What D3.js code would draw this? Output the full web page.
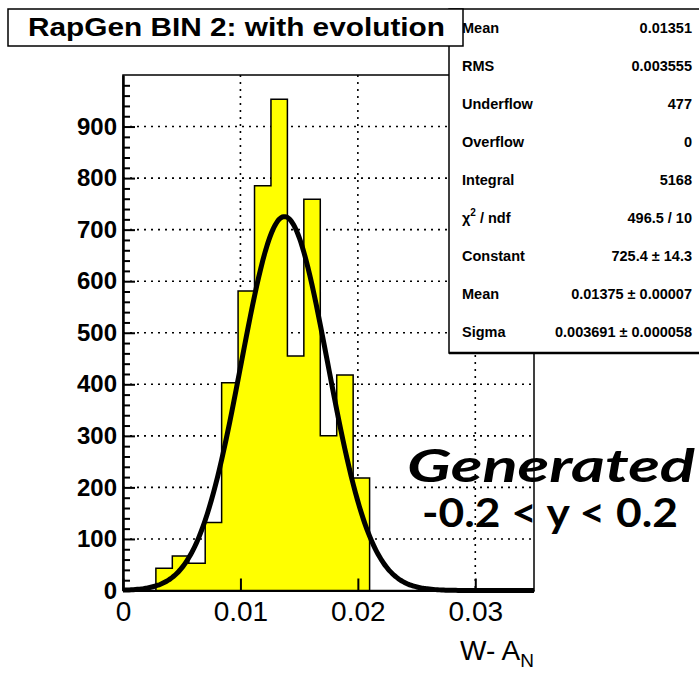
<!DOCTYPE html>
<html>
<head>
<meta charset="utf-8">
<script src="https://cdn.jsdelivr.net/npm/d3@7"></script>
<style>
  body { margin: 0; background: #fff; }
  svg { display: block; }
</style>
</head>
<body>
<div id="chart"></div>
<script>
// histogram: 25 bins of width 0.0014 over [0, 0.035]
const binWidth = 0.0014;
const binCounts = [0, 0, 43, 67, 53, 132, 403, 581, 785, 953, 455, 759, 300, 418, 218,
                   0, 0, 0, 0, 0, 0, 0, 0, 0, 0];

// gaussian fit results (as printed in the stats box)
const fitConstant = 725.4;
const fitMean = 0.01375;
const fitSigma = 0.003691;

const xTicks = [0, 0.01, 0.02, 0.03];
const yTicks = [0, 100, 200, 300, 400, 500, 600, 700, 800, 900];

const statLabels = ["Mean", "RMS", "Underflow", "Overflow", "Integral", "chi2", "Constant", "Mean", "Sigma"];
const statValues = ["0.01351", "0.003555", "477", "0", "5168", "496.5 / 10",
                    "725.4 \u00b1 14.3", "0.01375 \u00b1 0.00007", "0.003691 \u00b1 0.000058"];

const titleText = "RapGen BIN 2: with evolution";

const width = 699, height = 673;
const frame = { left: 123, right: 534, top: 75, bottom: 590.5 };

const svg = d3.select("#chart").append("svg")
  .attr("width", width).attr("height", height)
  .attr("font-family", "'Liberation Sans', Arial, sans-serif");

const x = d3.scaleLinear().domain([0, 0.035]).range([frame.left, frame.right]);
const y = d3.scaleLinear().domain([0, 1000]).range([frame.bottom, frame.top]);

// frame
svg.append("rect")
  .attr("x", frame.left).attr("y", frame.top)
  .attr("width", frame.right - frame.left).attr("height", frame.bottom - frame.top)
  .attr("fill", "#fff").attr("stroke", "#000").attr("stroke-width", 1.5);

// dotted grid
const grid = svg.append("g").attr("stroke", "#000").attr("stroke-width", 1.6)
  .attr("stroke-dasharray", "2,5");
grid.selectAll("line.gx").data(xTicks.filter(d => d > 0)).join("line")
  .attr("x1", d => x(d)).attr("x2", d => x(d))
  .attr("y1", frame.top).attr("y2", frame.bottom);
grid.selectAll("line.gy").data(yTicks.filter(d => d > 0)).join("line")
  .attr("x1", frame.left).attr("x2", frame.right)
  .attr("y1", d => y(d)).attr("y2", d => y(d));

// histogram, drawn as one filled step outline
const bins = binCounts.map((c, i) => ({ x0: i * binWidth, x1: (i + 1) * binWidth, c }))
  .filter(b => b.c > 0);
const stepPts = [[bins[0].x0, 0]];
bins.forEach(b => { stepPts.push([b.x0, b.c]); stepPts.push([b.x1, b.c]); });
stepPts.push([bins[bins.length - 1].x1, 0]);
svg.append("path")
  .attr("d", d3.line().x(d => x(d[0])).y(d => y(d[1]))(stepPts) + "Z")
  .attr("fill", "#ffff00").attr("stroke", "#000").attr("stroke-width", 1.5);

// fit curve
const gaus = v => fitConstant * Math.exp(-0.5 * ((v - fitMean) / fitSigma) ** 2);
const curveX = d3.range(0, 0.035 + 1e-9, 0.035 / 200);
svg.append("path")
  .attr("d", d3.line().x(d => x(d)).y(d => y(gaus(d))).curve(d3.curveMonotoneX)(curveX))
  .attr("fill", "none").attr("stroke", "#000").attr("stroke-width", 5)
  .attr("stroke-linejoin", "round");

// axes
const yAxis = svg.append("g").attr("transform", `translate(${frame.left},0)`)
  .call(d3.axisLeft(y).tickValues(yTicks).tickSize(-12).tickSizeOuter(0).tickPadding(6));
yAxis.selectAll("text").attr("font-size", 24).attr("font-weight", "bold")
  .attr("font-family", "'Liberation Sans', Arial, sans-serif").attr("fill", "#000");
yAxis.select(".domain").attr("stroke-width", 2.5);
yAxis.selectAll(".tick line").attr("stroke-width", 2);

const minorY = d3.range(0, 1001, 20).filter(v => v % 100 !== 0);
svg.append("g").attr("transform", `translate(${frame.left},0)`)
  .call(d3.axisLeft(y).tickValues(minorY).tickSize(-7).tickSizeOuter(0).tickFormat(""))
  .call(g => g.select(".domain").remove())
  .selectAll(".tick line").attr("stroke-width", 2);

const xAxis = svg.append("g").attr("transform", `translate(0,${frame.bottom})`)
  .call(d3.axisBottom(x).tickValues(xTicks).tickSize(-12).tickSizeOuter(0).tickPadding(11)
    .tickFormat(d => d === 0 ? "0" : d3.format(".2f")(d)));
xAxis.selectAll("text").attr("font-size", 28)
  .attr("font-family", "'Liberation Sans', Arial, sans-serif").attr("fill", "#000");
xAxis.select(".domain").attr("stroke-width", 2);
xAxis.selectAll(".tick line").attr("stroke-width", 2);

// x title
const xt = svg.append("text").attr("x", frame.right).attr("y", 660)
  .attr("text-anchor", "end").attr("font-size", 28);
xt.append("tspan").text("W- A");
xt.append("tspan").attr("font-size", 19).attr("dy", 7).text("N");

// stats box
svg.append("rect").attr("x", 449).attr("y", 9).attr("width", 252).attr("height", 344)
  .attr("fill", "#fff").attr("stroke", "#000").attr("stroke-width", 1.5);
svg.append("line").attr("x1", 449).attr("x2", 700).attr("y1", 353).attr("y2", 353)
  .attr("stroke", "#000").attr("stroke-width", 2.5);

const rowY = i => 33 + i * 38;
const stats = svg.append("g").attr("font-size", 14.5).attr("font-weight", "bold");
statLabels.forEach((lab, i) => {
  const t = stats.append("text").attr("x", 462).attr("y", rowY(i));
  if (lab === "chi2") {
    t.append("tspan").text("\u03c7");
    t.append("tspan").attr("font-size", 10).attr("dy", -7).text("2");
    t.append("tspan").attr("dy", 7).text(" / ndf");
  } else {
    t.text(lab);
  }
});
stats.selectAll("text.val").data(statValues).join("text")
  .attr("class", "val").attr("x", 692).attr("y", (d, i) => rowY(i))
  .attr("text-anchor", "end").text(d => d);

// title box
svg.append("rect").attr("x", 8).attr("y", 9).attr("width", 455).attr("height", 37)
  .attr("fill", "#fff").attr("stroke", "#000").attr("stroke-width", 1.5);
svg.append("text").attr("x", 28).attr("y", 36)
  .attr("font-size", 25).attr("font-weight", "bold")
  .attr("textLength", 417).attr("lengthAdjust", "spacingAndGlyphs")
  .text(titleText);

// annotation
svg.append("text").attr("x", 407).attr("y", 482)
  .attr("font-family", "Lato, 'Open Sans', sans-serif")
  .attr("font-size", 46).attr("font-weight", "bold").attr("font-style", "italic")
  .attr("textLength", 288).attr("lengthAdjust", "spacingAndGlyphs")
  .text("Generated");
svg.append("text").attr("x", 422).attr("y", 527)
  .attr("font-family", "Lato, 'Open Sans', sans-serif")
  .attr("font-size", 40).attr("font-weight", "bold")
  .attr("textLength", 256).attr("lengthAdjust", "spacingAndGlyphs")
  .text("-0.2 < y < 0.2");
</script>
</body>
</html>
